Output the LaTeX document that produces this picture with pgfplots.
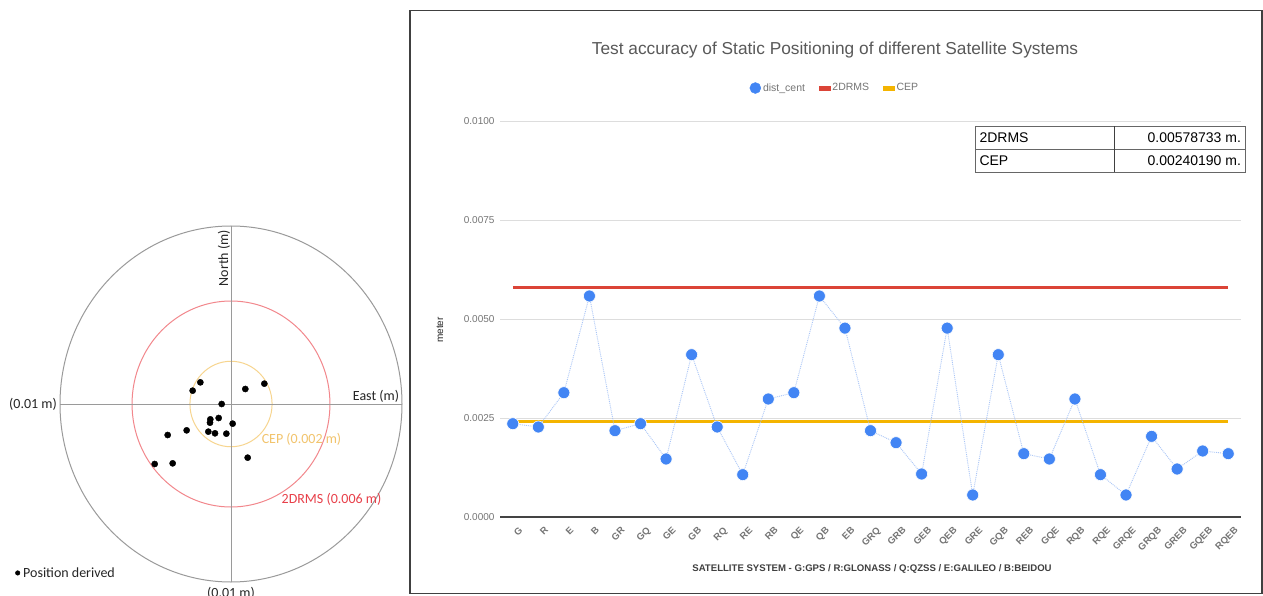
\documentclass[border=0pt]{standalone}
\usepackage{fontspec}
\setmainfont{Liberation Sans}
\newfontfamily\calibri{Carlito}
\usepackage{pgfplots}
\usepackage{pgfplotstable}
\pgfplotsset{compat=1.18}
\definecolor{gblue}{HTML}{4285F4}
\definecolor{gred}{HTML}{DB4437}
\definecolor{gyellow}{HTML}{F4B400}
\definecolor{lblue}{HTML}{A9C5F7}
\definecolor{gridc}{HTML}{DDDDDD}
\definecolor{tickc}{HTML}{757575}
\definecolor{axisc}{HTML}{444444}
\definecolor{ringgray}{HTML}{9A9A9A}
\definecolor{ringred}{HTML}{F2878C}
\definecolor{ringorange}{HTML}{F7D58F}
\definecolor{cepText}{HTML}{F2C46D}
\definecolor{drmsText}{HTML}{E8404A}

\pgfplotstableread{
x y
0 0.002356
1 0.002273
2 0.003139
3 0.005581
4 0.002180
5 0.002356
6 0.001465
7 0.004099
8 0.002273
9 0.001069
10 0.002980
11 0.003139
12 0.005581
13 0.004770
14 0.002180
15 0.001877
16 0.001086
17 0.004770
18 0.000556
19 0.004099
20 0.001599
21 0.001465
22 0.002980
23 0.001069
24 0.000556
25 0.002037
26 0.001212
27 0.001667
28 0.001599
}\distdata

\pgfplotstableread{
e n
-0.001793 0.001217
-0.002242 0.000749
0.000838 0.000843
0.001949 0.001142
-0.000546 0.000000
-0.001209 -0.000861
-0.001228 -0.001049
-0.000721 -0.000787
0.000097 -0.001105
-0.002593 -0.001479
-0.003704 -0.001742
-0.001326 -0.001554
-0.000936 -0.001648
-0.000273 -0.001667
0.000975 -0.003015
-0.004464 -0.003371
-0.003411 -0.003333
}\posdata

\begin{document}
\begin{tikzpicture}[x=1pt,y=1pt]
\path[use as bounding box] (0,0) rectangle (1263,595);
\fill[white] (0,0) rectangle (1263,595);

% ---------------- left panel ----------------
\begin{axis}[
  at={(231pt,191pt)}, anchor=center,
  scale only axis, width=359.1pt, height=373.8pt,
  xmin=-0.0105, xmax=0.0105, ymin=-0.0105, ymax=0.0105,
  hide axis, clip=false,
  legend style={draw=none, fill=none, at={(-0.1015,0.048)}, anchor=west,
    font=\calibri\fontsize{14}{16}\selectfont, text=black!85, inner sep=0pt,
    /tikz/every odd column/.append style={column sep=1pt}},
  legend cell align=left,
]
\draw[ringgray, line width=1pt] (axis cs:0,0) ellipse [x radius=171pt, y radius=178pt];
\draw[ringred, line width=1pt] (axis cs:0,0) ellipse [x radius=98.96pt, y radius=103.0pt];
\draw[ringorange, line width=1pt] (axis cs:0,0) ellipse [x radius=41.07pt, y radius=42.75pt];
\draw[ringgray, line width=1pt] (axis cs:-0.01,0) -- (axis cs:0.01,0);
\draw[ringgray, line width=1pt] (axis cs:0,-0.01) -- (axis cs:0,0.01);
\addplot[only marks, mark=*, mark size=3.1pt, black,
  legend image code/.code={\fill[black] (0pt,0) circle (2.3pt);}]
  table[x=e,y=n]{\posdata};
\addlegendentry{Position derived}
\end{axis}

\node[rotate=90, font=\calibri\fontsize{14}{16}\selectfont, text=black!85] at (224,337) {North (m)};
\node[font=\calibri\fontsize{14}{16}\selectfont, text=black!85] at (376,199) {East (m)};
\node[font=\calibri\fontsize{14}{16}\selectfont, text=black!85] at (33,191) {(0.01 m)};
\node[anchor=north, font=\calibri\fontsize{14}{16}\selectfont, text=black!85, inner sep=0pt] at (231,8) {(0.01 m)};
\node[font=\calibri\fontsize{14}{16}\selectfont, text=cepText] at (301.5,156) {CEP (0.002 m)};
\node[font=\calibri\fontsize{14}{16}\selectfont, text=drmsText] at (331.5,96) {2DRMS (0.006 m)};

% ---------------- right panel ----------------
\draw[black!75, line width=1.2pt] (410,1.5) rectangle (1262,584.5);

\node[font=\fontsize{17.3}{20}\selectfont, text=black!65] at (835,545) {Test accuracy of Static Positioning of different Satellite Systems};

\begin{axis}[
  at={(500pt,78pt)}, anchor=south west,
  scale only axis, width=741pt, height=396pt,
  xmin=-0.5, xmax=28.5, ymin=0, ymax=0.01,
  axis line style={draw=none},
  major tick length=0pt,
  ymajorgrids, grid style={gridc, line width=0.9pt},
  ytick={0,0.0025,0.005,0.0075,0.01},
  scaled y ticks=false,
  /pgf/number format/assume math mode=true,
  yticklabel={\pgfmathprintnumber[fixed, fixed zerofill, precision=4]{\tick}},
  yticklabel style={font=\fontsize{10}{12}\selectfont, text=tickc, xshift=-2pt},
  xtick={0,...,28},
  xticklabels={G,R,E,B,GR,GQ,GE,GB,RQ,RE,RB,QE,QB,EB,GRQ,GRB,GEB,QEB,GRE,GQB,REB,GQE,RQB,RQE,GRQE,GRQB,GREB,GQEB,RQEB},
  xticklabel style={rotate=45, anchor=north east, font=\fontsize{9.5}{10}\selectfont\bfseries, text=tickc, xshift=1pt, yshift=-7pt},
  clip=false,
  legend columns=3,
  legend style={draw=none, fill=none, at={(0.452,1.0833)}, anchor=center,
    font=\fontsize{10.5}{12}\selectfont, text=tickc,
    /tikz/every even column/.append style={column sep=12pt}},
]
\addlegendimage{legend image code/.code={\fill[gblue] (1pt,0) circle (5.5pt);}}
\addlegendentry{dist\_cent}
\addlegendimage{legend image code/.code={\fill[gred] (0pt,-2pt) rectangle (11pt,2pt);}}
\addlegendentry{2DRMS}
\addlegendimage{legend image code/.code={\fill[gyellow] (0pt,-2pt) rectangle (11pt,2pt);}}
\addlegendentry{CEP}

\draw[axisc, line width=1.2pt] (axis cs:-0.5,0) -- (axis cs:28.5,0);
\addplot[forget plot, gred, line width=3pt] coordinates {(0,0.00578733) (28,0.00578733)};
\addplot[forget plot, gyellow, line width=3pt] coordinates {(0,0.0024019) (28,0.0024019)};
\addplot[forget plot, lblue, densely dotted, line width=0.9pt, mark=*, mark size=6pt,
  mark options={solid, fill=gblue, draw=white, line width=0.6pt}]
  table[x=x,y=y]{\distdata};
\end{axis}

\node[font=\fontsize{9.6}{12}\selectfont\bfseries, text=black!75] at (872,26) {SATELLITE SYSTEM - G:GPS / R:GLONASS / Q:QZSS / E:GALILEO / B:BEIDOU};
\node[rotate=90, font=\fontsize{10}{12}\selectfont, text=black!85] at (440,265) {meter};

% value table
\draw[fill=white, draw=black!60, line width=0.8pt] (975,422.7) rectangle (1245.7,469);
\draw[black!60, line width=0.8pt] (975,445.3) -- (1245.7,445.3);
\draw[black!75, line width=0.8pt] (1114.3,422.7) -- (1114.3,469);
\node[anchor=west, font=\fontsize{14}{16}\selectfont] at (976,457.2) {2DRMS};
\node[anchor=east, font=\fontsize{14}{16}\selectfont] at (1244.5,457.2) {0.00578733 m.};
\node[anchor=west, font=\fontsize{14}{16}\selectfont] at (976,434) {CEP};
\node[anchor=east, font=\fontsize{14}{16}\selectfont] at (1244.5,434) {0.00240190 m.};
\end{tikzpicture}
\end{document}
